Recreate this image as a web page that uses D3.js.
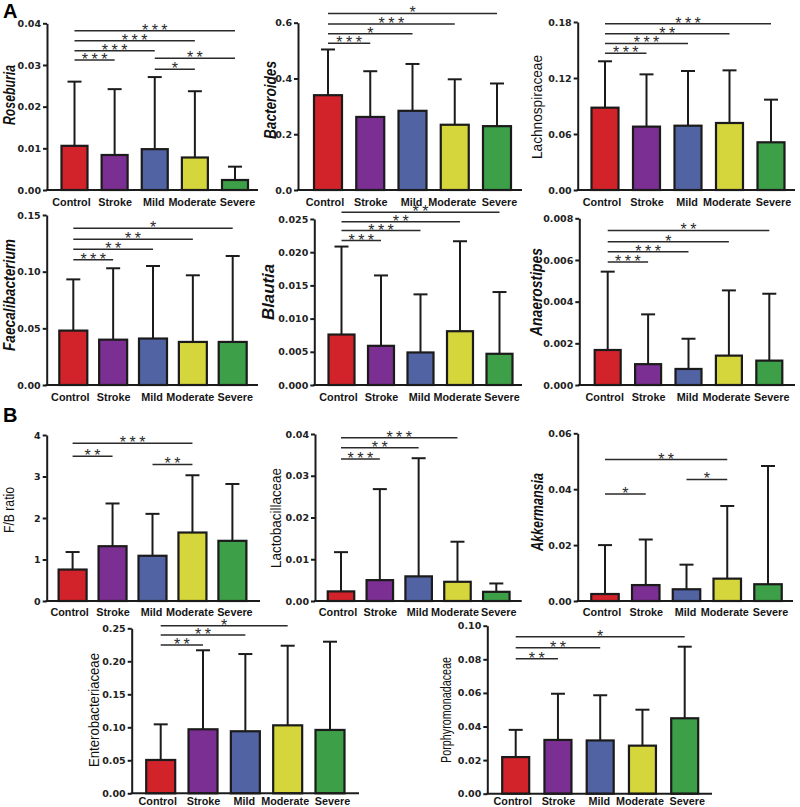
<!DOCTYPE html>
<html>
<head>
<meta charset="utf-8">
<script src="https://cdn.jsdelivr.net/npm/d3@7"></script>
<style>
  html, body { margin: 0; padding: 0; background: #ffffff; }
  svg { display: block; }
</style>
</head>
<body>
<script>
// ---------------- DATA ----------------
const groups = ["Control", "Stroke", "Mild", "Moderate", "Severe"];
const groupColors = ["#d2232a", "#7b2f92", "#5263a4", "#d5d53c", "#3d9f48"];

const roseburiaMean  = [0.0106, 0.0084, 0.0098, 0.0078, 0.0024];
const roseburiaUpper = [0.0260, 0.0242, 0.0271, 0.0237, 0.0056];
const roseburiaTicks = [0, 0.01, 0.02, 0.03, 0.04];
const roseburiaSig   = [[0, 4, 0.0382, "***"], [0, 3, 0.0358, "***"], [0, 2, 0.0334, "***"], [0, 1, 0.0312, "***"], [2, 4, 0.0316, "**"], [2, 3, 0.0290, "*"]];

const bacteroidesMean  = [0.340, 0.262, 0.284, 0.234, 0.229];
const bacteroidesUpper = [0.504, 0.426, 0.452, 0.397, 0.382];
const bacteroidesTicks = [0, 0.2, 0.4, 0.6];
const bacteroidesSig   = [[0, 4, 0.633, "*"], [0, 3, 0.595, "***"], [0, 2, 0.560, "*"], [0, 1, 0.526, "***"]];

const lachnoMean  = [0.0882, 0.0679, 0.0689, 0.0718, 0.0511];
const lachnoUpper = [0.1379, 0.1239, 0.1275, 0.1282, 0.0968];
const lachnoTicks = [0, 0.06, 0.12, 0.18];
const lachnoSig   = [[0, 4, 0.178, "***"], [0, 3, 0.1675, "**"], [0, 2, 0.157, "***"], [0, 1, 0.1464, "***"]];

const faecalMean  = [0.048, 0.040, 0.041, 0.038, 0.038];
const faecalUpper = [0.0932, 0.103, 0.105, 0.0968, 0.1138];
const faecalTicks = [0, 0.05, 0.10, 0.15];
const faecalSig   = [[0, 4, 0.1382, "*"], [0, 3, 0.1285, "**"], [0, 2, 0.1197, "**"], [0, 1, 0.1106, "***"]];

const blautiaMean  = [0.0076, 0.0059, 0.0049, 0.0081, 0.0047];
const blautiaUpper = [0.02085, 0.0165, 0.01365, 0.02165, 0.0140];
const blautiaTicks = [0, 0.005, 0.010, 0.015, 0.020, 0.025];
const blautiaSig   = [[0, 4, 0.0260, "**"], [0, 3, 0.0246, "**"], [0, 2, 0.02325, "***"], [0, 1, 0.02175, "***"]];

const anaeroMean  = [0.00168, 0.0010, 0.00077, 0.00141, 0.00117];
const anaeroUpper = [0.00544, 0.00339, 0.00222, 0.00454, 0.00438];
const anaeroTicks = [0, 0.002, 0.004, 0.006, 0.008];
const anaeroSig   = [[0, 4, 0.00742, "**"], [0, 3, 0.00688, "*"], [0, 2, 0.0064, "***"], [0, 1, 0.0059, "***"]];

const fbMean  = [0.758, 1.32, 1.09, 1.65, 1.45];
const fbUpper = [1.18, 2.35, 2.10, 3.03, 2.82];
const fbTicks = [0, 1, 2, 3, 4];
const fbSig   = [[0, 3, 3.80, "***"], [0, 1, 3.49, "**"], [2, 3, 3.29, "**"]];

const lactoMean  = [0.0023, 0.0050, 0.0059, 0.0046, 0.0022];
const lactoUpper = [0.0117, 0.0268, 0.0342, 0.0142, 0.0042];
const lactoTicks = [0, 0.01, 0.02, 0.03, 0.04];
const lactoSig   = [[0, 3, 0.0391, "***"], [0, 2, 0.0367, "**"], [0, 1, 0.0340, "***"]];

const akkMean  = [0.0025, 0.0057, 0.0042, 0.0080, 0.0060];
const akkUpper = [0.0200, 0.0220, 0.0130, 0.0340, 0.0483];
const akkTicks = [0, 0.02, 0.04, 0.06];
const akkSig   = [[0, 3, 0.0506, "**"], [2, 3, 0.0435, "*"], [0, 1, 0.0383, "*"]];

const enteroMean  = [0.0505, 0.097, 0.094, 0.103, 0.096];
const enteroUpper = [0.1045, 0.2167, 0.211, 0.2236, 0.2297];
const enteroTicks = [0, 0.05, 0.10, 0.15, 0.20, 0.25];
const enteroSig   = [[0, 3, 0.254, "*"], [0, 2, 0.240, "**"], [0, 1, 0.2247, "**"]];

const porphMean  = [0.0218, 0.0320, 0.0317, 0.0286, 0.0449];
const porphUpper = [0.0380, 0.0595, 0.0586, 0.0500, 0.0875];
const porphTicks = [0, 0.02, 0.04, 0.06, 0.08, 0.10];
const porphSig   = [[0, 4, 0.0934, "*"], [0, 2, 0.0869, "**"], [0, 1, 0.0804, "**"]];

// ---------------- LAYOUT ----------------
const labelShift = [-3, 0.5, -1, -2.5, 2.5];   // x-label nudges (px)

const panels = [
  {title: "Roseburia", italic: true, mean: roseburiaMean, upper: roseburiaUpper, ticks: roseburiaTicks, sig: roseburiaSig, fmt: ".2f", max: 0.04,
   left: 47, right: 258, c0: 74.5, c4: 235, bottom: 190, top: 23.3, bw: 26, tx: 9, ty: 95, tl: 60, lab: 15.5},
  {title: "Bacteroides", italic: true, mean: bacteroidesMean, upper: bacteroidesUpper, ticks: bacteroidesTicks, sig: bacteroidesSig, fmt: ".1f", max: 0.6,
   left: 298, right: 522, c0: 328, c4: 497, bottom: 190, top: 22.7, bw: 28, tx: 270, ty: 100, tl: 78, lab: 15.5},
  {title: "Lachnospiraceae", italic: false, mean: lachnoMean, upper: lachnoUpper, ticks: lachnoTicks, sig: lachnoSig, fmt: ".2f", max: 0.18,
   left: 577.7, right: 795, c0: 605, c4: 771, bottom: 190, top: 22, bw: 27, tx: 537, ty: 107, tl: 104, lab: 15.5},
  {title: "Faecalibacterium", italic: true, mean: faecalMean, upper: faecalUpper, ticks: faecalTicks, sig: faecalSig, fmt: ".2f", max: 0.15,
   left: 46.7, right: 258, c0: 73.3, c4: 232.7, bottom: 385, top: 215, bw: 28, tx: 9, ty: 295, tl: 112, lab: 15.5},
  {title: "Blautia", italic: true, mean: blautiaMean, upper: blautiaUpper, ticks: blautiaTicks, sig: blautiaSig, fmt: ".3f", max: 0.025,
   left: 314.3, right: 522, c0: 341.5, c4: 499.5, bottom: 385, top: 219, bw: 26, tx: 268, ty: 292, tl: 56, lab: 15.5},
  {title: "Anaerostipes", italic: true, mean: anaeroMean, upper: anaeroUpper, ticks: anaeroTicks, sig: anaeroSig, fmt: ".3f", max: 0.008,
   left: 579.3, right: 795, c0: 607.7, c4: 769.3, bottom: 385, top: 218.3, bw: 26, tx: 536, ty: 292, tl: 88, lab: 15.5},
  {title: "F/B ratio", italic: false, mean: fbMean, upper: fbUpper, ticks: fbTicks, sig: fbSig, fmt: "d", max: 4,
   left: 46.7, right: 260, c0: 72.6, c4: 232.4, bottom: 601, top: 435, bw: 28, tx: 9, ty: 510, tl: 46, lab: 15},
  {title: "Lactobacillaceae", italic: false, mean: lactoMean, upper: lactoUpper, ticks: lactoTicks, sig: lactoSig, fmt: ".2f", max: 0.04,
   left: 315, right: 521.7, c0: 341, c4: 496.3, bottom: 601, top: 434, bw: 26.5, tx: 276, ty: 518, tl: 100, lab: 15},
  {title: "Akkermansia", italic: true, mean: akkMean, upper: akkUpper, ticks: akkTicks, sig: akkSig, fmt: ".2f", max: 0.06,
   left: 577.7, right: 793, c0: 605, c4: 768, bottom: 601, top: 433.3, bw: 27.5, tx: 537, ty: 512, tl: 78, lab: 15},
  {title: "Enterobacteriaceae", italic: false, mean: enteroMean, upper: enteroUpper, ticks: enteroTicks, sig: enteroSig, fmt: ".2f", max: 0.25,
   left: 131.7, right: 359, c0: 160.7, c4: 330, bottom: 793.3, top: 628.3, bw: 29, tx: 94, ty: 710, tl: 114, lab: 12},
  {title: "Porphyromonadaceae", italic: false, mean: porphMean, upper: porphUpper, ticks: porphTicks, sig: porphSig, fmt: ".2f", max: 0.10,
   left: 487.3, right: 712, c0: 515.7, c4: 684.7, bottom: 793.7, top: 625.7, bw: 27, tx: 446, ty: 710, tl: 106, lab: 11.5}
];

// ---------------- DRAW ----------------
const svg = d3.select("body").append("svg")
  .attr("width", 800).attr("height", 807)
  .style("background", "#ffffff");

const INK = "#1b1b1b";

function drawPanel(p) {
  const g = svg.append("g");
  const y = d3.scaleLinear().domain([0, p.max]).range([p.bottom, p.top]);
  const x = d3.scalePoint().domain(groups).range([p.c0, p.c4]);
  const rows = groups.map((k, i) => ({k, i, m: p.mean[i], u: p.upper[i]}));

  // error bars (upper only)
  g.selectAll("line.err").data(rows).join("line")
    .attr("x1", d => x(d.k)).attr("x2", d => x(d.k))
    .attr("y1", d => y(d.m)).attr("y2", d => y(d.u))
    .attr("stroke", INK).attr("stroke-width", 2);
  g.selectAll("line.cap").data(rows).join("line")
    .attr("x1", d => x(d.k) - 7).attr("x2", d => x(d.k) + 7)
    .attr("y1", d => y(d.u)).attr("y2", d => y(d.u))
    .attr("stroke", INK).attr("stroke-width", 2);

  // bars
  g.selectAll("rect.bar").data(rows).join("rect")
    .attr("x", d => x(d.k) - p.bw / 2)
    .attr("y", d => y(d.m))
    .attr("width", p.bw)
    .attr("height", d => p.bottom - y(d.m))
    .attr("fill", d => groupColors[d.i])
    .attr("stroke", INK).attr("stroke-width", 2.2);

  // y axis
  const ax = g.append("g")
    .attr("transform", `translate(${p.left},0)`)
    .call(d3.axisLeft(y).tickValues(p.ticks).tickFormat(d3.format(p.fmt)).tickSizeOuter(0).tickSizeInner(4).tickPadding(2));
  ax.select(".domain").attr("stroke", INK).attr("stroke-width", 2);
  ax.selectAll(".tick line").attr("stroke", INK).attr("stroke-width", 2);
  ax.selectAll(".tick text")
    .attr("fill", "#222")
    .style("font-family", "'DejaVu Sans', sans-serif")
    .style("font-weight", "bold")
    .style("font-size", "9.5px");

  // x axis line
  g.append("line")
    .attr("x1", p.left - 1).attr("x2", p.right)
    .attr("y1", p.bottom).attr("y2", p.bottom)
    .attr("stroke", INK).attr("stroke-width", 2);

  // x labels
  g.selectAll("text.xl").data(rows).join("text")
    .attr("x", d => x(d.k) + labelShift[d.i]).attr("y", p.bottom + p.lab)
    .attr("text-anchor", "middle")
    .style("font-family", "'Liberation Sans', Arial, sans-serif")
    .style("font-weight", "bold")
    .style("font-size", "10.8px")
    .attr("fill", "#151515")
    .text(d => d.k);

  // y title
  g.append("text")
    .attr("transform", `translate(${p.tx},${p.ty}) rotate(-90)`)
    .attr("text-anchor", "middle")
    .attr("dy", "0.35em")
    .attr("textLength", p.tl)
    .attr("lengthAdjust", "spacingAndGlyphs")
    .style("font-family", p.italic ? "'Liberation Sans', Arial, sans-serif" : "'Liberation Sans Narrow', 'Liberation Sans', Arial, sans-serif")
    .style("font-weight", p.italic ? "bold" : "normal")
    .style("font-style", p.italic ? "italic" : "normal")
    .style("font-size", p.italic ? "16px" : "15px")
    .attr("fill", "#111")
    .text(p.title);

  // significance brackets
  const sg = g.selectAll("g.sig").data(p.sig).join("g");
  sg.append("line")
    .attr("x1", d => x(groups[d[0]])).attr("x2", d => x(groups[d[1]]))
    .attr("y1", d => y(d[2])).attr("y2", d => y(d[2]))
    .attr("stroke", "#2a2a2a").attr("stroke-width", 1.5);
  sg.append("text")
    .attr("x", d => (x(groups[d[0]]) + x(groups[d[1]])) / 2 + 1.75)
    .attr("y", d => y(d[2]) + 5)
    .attr("text-anchor", "middle")
    .style("font-family", "'Liberation Sans', Arial, sans-serif")
    .style("font-size", "16px")
    .style("letter-spacing", "3.5px")
    .attr("fill", "#2a2a2a")
    .text(d => d[3]);
}

panels.forEach(drawPanel);

// panel letters
svg.append("text").attr("x", 3).attr("y", 18)
  .style("font-family", "'Liberation Sans', Arial, sans-serif")
  .style("font-weight", "bold").style("font-size", "20px").text("A");
svg.append("text").attr("x", 3).attr("y", 422)
  .style("font-family", "'Liberation Sans', Arial, sans-serif")
  .style("font-weight", "bold").style("font-size", "20px").text("B");
</script>
</body>
</html>
